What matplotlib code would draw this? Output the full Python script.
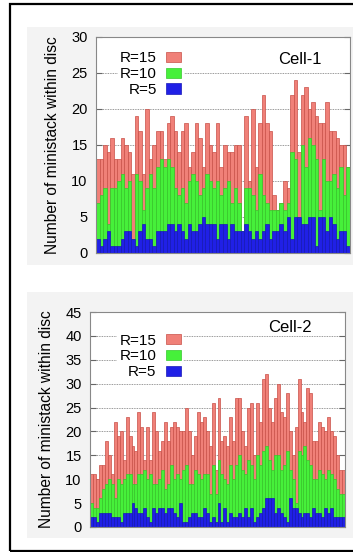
import numpy as np
import matplotlib
matplotlib.use("Agg")
import matplotlib.pyplot as plt
from matplotlib.patches import Rectangle

plt.rcParams['font.family'] = ['Liberation Sans', 'DejaVu Sans']

# ---- data: number of ministacks within disc of radius R (nested counts) ----
cell1_r15 = [13, 13, 15, 14, 16, 13, 13, 16, 15, 14,
             11, 19, 17, 11, 20, 13, 15, 17, 17, 13,
             18, 19, 17, 14, 17, 18, 12, 14, 18, 16,
             12, 18, 15, 14, 18, 12, 15, 14, 14, 15,
             15, 3, 19, 10, 20, 12, 18, 22, 18, 17,
             8, 6, 7, 10, 9, 22, 24, 14, 22, 23,
             20, 21, 19, 18, 18, 21, 17, 17, 16, 15,
             15, 12]
cell1_r10 = [7, 8, 9, 4, 9, 9, 10, 11, 9, 10,
             2, 11, 10, 6, 9, 11, 9, 12, 13, 12,
             13, 12, 9, 8, 9, 7, 10, 11, 10, 8,
             9, 11, 10, 9, 10, 8, 9, 10, 7, 9,
             7, 3, 9, 9, 8, 6, 11, 8, 7, 6,
             6, 6, 7, 6, 7, 14, 13, 5, 15, 12,
             16, 15, 13, 6, 13, 10, 10, 11, 9, 12,
             8, 12]
cell1_r5 = [2, 1, 2, 3, 1, 1, 1, 2, 3, 3,
            2, 1, 3, 4, 2, 2, 1, 3, 3, 3,
            4, 4, 3, 4, 3, 2, 4, 3, 3, 4,
            5, 4, 4, 4, 2, 4, 4, 2, 4, 3,
            3, 3, 4, 3, 2, 3, 2, 3, 4, 2,
            3, 3, 4, 3, 5, 2, 5, 5, 4, 4,
            5, 5, 1, 5, 5, 3, 5, 4, 2, 3,
            3, 1]

cell2_r15 = [11, 11, 10, 13, 13, 18, 15, 11, 22, 19,
             20, 14, 23, 19, 17, 16, 24, 21, 14, 21,
             14, 24, 20, 16, 18, 22, 18, 21, 22, 21,
             20, 20, 25, 20, 15, 19, 24, 22, 23, 20,
             17, 26, 12, 27, 18, 19, 17, 23, 18, 27,
             27, 20, 17, 25, 26, 15, 26, 22, 31, 32,
             25, 22, 27, 30, 24, 23, 28, 20, 15, 21,
             31, 24, 22, 29, 28, 18, 18, 22, 21, 20,
             23, 20, 19, 15, 12, 12]
cell2_r10 = [5, 4, 4, 6, 8, 9, 10, 9, 6, 10,
             9, 10, 11, 11, 9, 9, 11, 11, 12, 10,
             11, 9, 9, 10, 12, 8, 9, 13, 10, 11,
             10, 12, 13, 9, 9, 12, 11, 10, 11, 11,
             7, 13, 7, 14, 11, 10, 9, 13, 10, 13,
             15, 12, 11, 14, 13, 10, 15, 13, 16, 17,
             14, 12, 15, 15, 12, 13, 16, 12, 10, 5,
             16, 15, 17, 14, 13, 10, 10, 12, 11, 10,
             12, 11, 10, 8, 7, 7]
cell2_r5 = [2, 2, 1, 3, 3, 3, 3, 2, 2, 2,
            1, 3, 3, 3, 5, 4, 3, 3, 4, 2,
            1, 4, 3, 4, 4, 3, 4, 4, 3, 2,
            5, 1, 1, 2, 3, 3, 2, 2, 4, 3,
            1, 2, 1, 5, 1, 4, 1, 3, 2, 2,
            3, 2, 4, 2, 4, 1, 2, 3, 4, 6,
            6, 6, 3, 4, 3, 2, 1, 6, 4, 4,
            3, 2, 3, 3, 2, 4, 3, 3, 2, 4,
            3, 4, 2, 2, 2, 2]

labels = ['R=15', 'R=10', 'R=5']
fills = ['#f08078', '#46f03a', '#2020e6']
edges = ['#c85048', '#36c82c', '#1818b8']

W, H = 353, 552
fig = plt.figure(figsize=(W / 100, H / 100), dpi=100)


def px_rect(x0, y0, x1, y1, **kw):
    # rectangle given in pixel coords (origin top-left)
    fig.patches.append(Rectangle((x0 / W, 1 - y1 / H), (x1 - x0) / W, (y1 - y0) / H,
                                 transform=fig.transFigure, **kw))


# outer frame and the light panel backgrounds
px_rect(27, 27, 360, 265, facecolor='#f3f3f3', edgecolor='none', zorder=-2)
px_rect(27, 292, 360, 538, facecolor='#f3f3f3', edgecolor='none', zorder=-2)
px_rect(10, 4, 362, 551, facecolor='none', edgecolor='black', linewidth=1.6, zorder=5)


def panel(box, series, ymax, name, name_xy, leg_anchor):
    l, t, r, b = box
    ax = fig.add_axes([l / W, 1 - b / H, (r - l) / W, (b - t) / H])
    n = len(series[0])
    x = np.arange(n)
    handles = []
    for vals, lab, fc, ec in zip(series, labels, fills, edges):
        h = ax.bar(x, vals, width=1.0, color=fc, edgecolor=ec, linewidth=0.5, label=lab)
        handles.append(h)
    ax.set_xlim(-0.5, n - 0.5)
    ax.set_ylim(0, ymax)
    ax.set_yticks(np.arange(0, ymax + 1, 5))
    ax.set_xticks([])
    ax.set_axisbelow(True)
    ax.grid(axis='y', linestyle=(0, (1, 1)), color='#777777', linewidth=0.6)
    ax.tick_params(axis='y', direction='in', right=True, length=4, labelsize=10.5,
                   color='#666666', pad=6)
    for s in ax.spines.values():
        s.set_color('#888888')
        s.set_linewidth(0.8)
    ax.set_ylabel('Number of ministack within disc', fontsize=11.2, labelpad=8)
    ax.text(name_xy[0], name_xy[1], name, transform=ax.transAxes, fontsize=12,
            ha='center', va='center')
    ax.legend(handles=handles, loc='upper right', bbox_to_anchor=leg_anchor,
              markerfirst=False, frameon=True, facecolor='white', edgecolor='none',
              framealpha=1, fancybox=False, fontsize=11, handlelength=1.0,
              handleheight=0.65, handletextpad=0.6, labelspacing=0.12,
              borderpad=0.15, borderaxespad=0)
    return ax


panel((96, 37, 350, 253), [cell1_r15, cell1_r10, cell1_r5], 30, 'Cell-1',
      (0.803, 0.894), (0.345, 0.945))
panel((90, 312, 345, 527), [cell2_r15, cell2_r10, cell2_r5], 45, 'Cell-2',
      (0.784, 0.929), (0.365, 0.91))

fig.savefig('out.png', dpi=100)
